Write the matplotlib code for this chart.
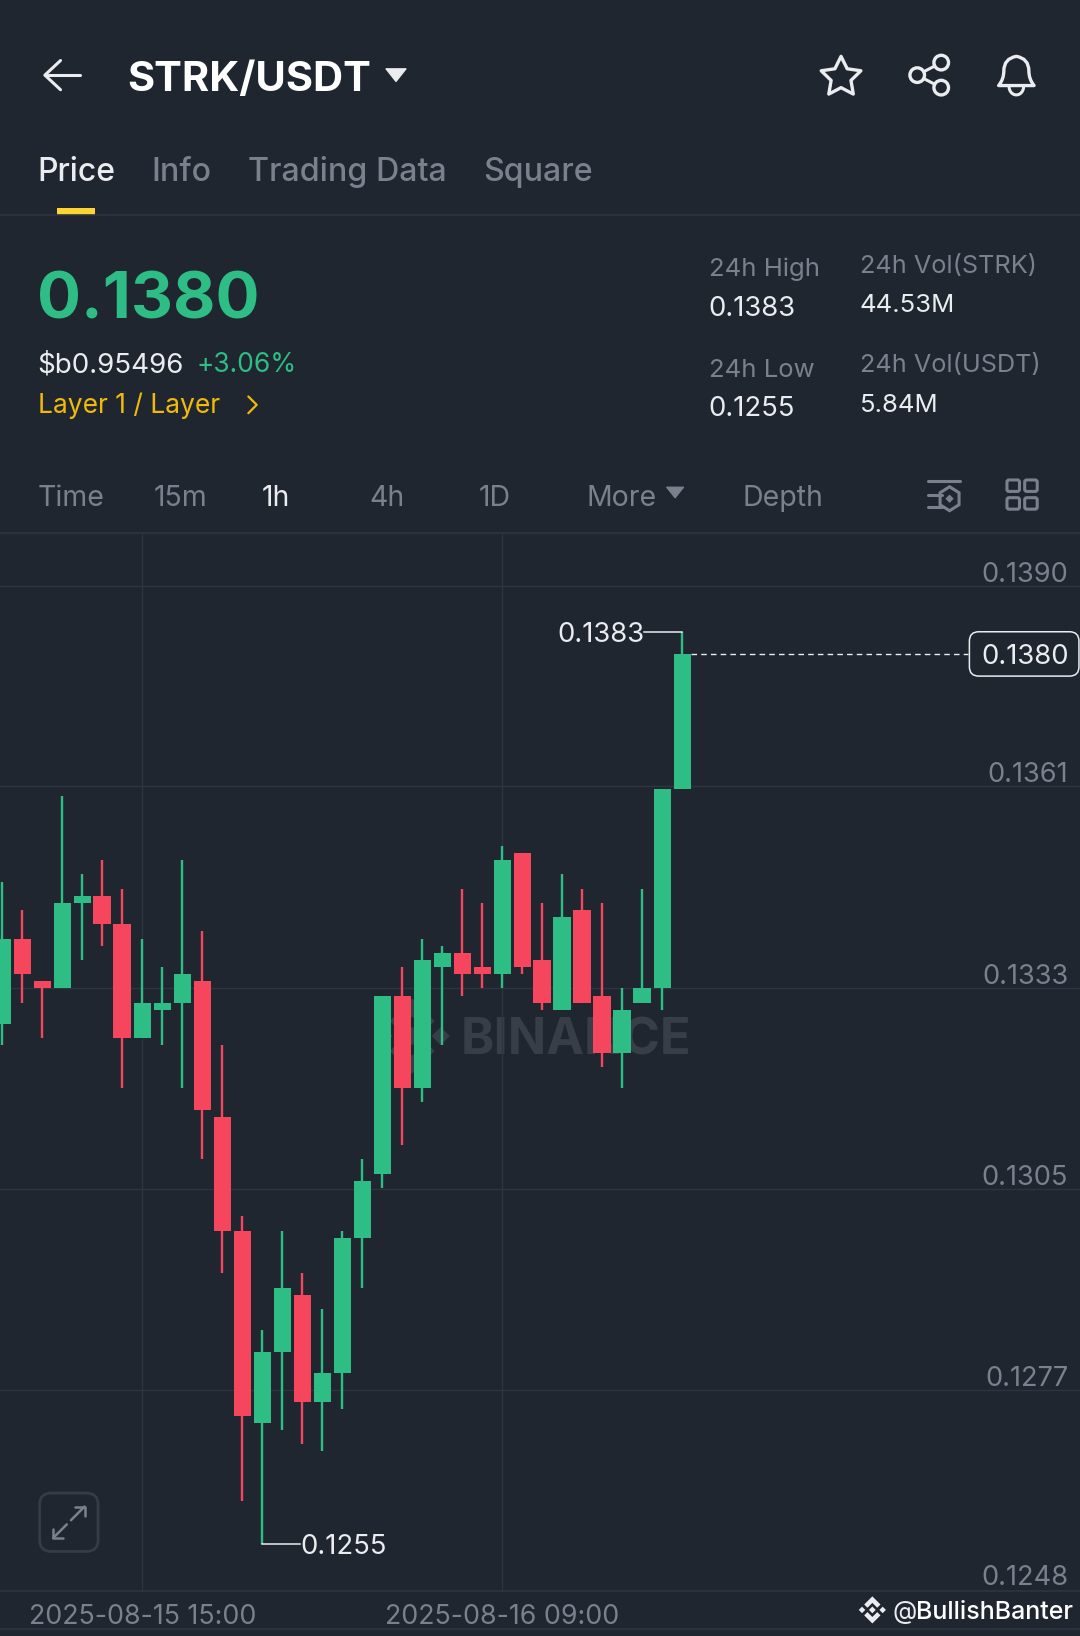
import numpy as np
import matplotlib
matplotlib.use("Agg")
import matplotlib.pyplot as plt
from matplotlib.patches import FancyBboxPatch, Polygon, Circle, PathPatch, Rectangle
from matplotlib.path import Path
from matplotlib.transforms import ScaledTranslation

plt.rcParams['font.family'] = ['Inter', 'DejaVu Sans']

BG = '#1F2630'
GREEN = '#2EBD85'
RED = '#F6465D'
GRID = '#2E3540'
GREY = '#7A818D'
WHITE = '#EAECEF'
YELLOW = '#F0B90B'

# hourly candles, left to right
opens = [0.1328, 0.1340, 0.1334, 0.1333, 0.1345, 0.1346, 0.1342, 0.1326, 0.1330, 0.1331,
         0.1334, 0.1315, 0.1299, 0.1272, 0.1282, 0.1290, 0.1275, 0.1279, 0.1298, 0.1307,
         0.1332, 0.1319, 0.1336, 0.1338, 0.1336, 0.1335, 0.1352, 0.1337, 0.1330, 0.1344,
         0.1332, 0.1324, 0.1331, 0.1333, 0.1361]
highs = [0.1348, 0.1344, 0.1334, 0.1360, 0.1349, 0.1351, 0.1347, 0.1340, 0.1336, 0.1351,
         0.1341, 0.1325, 0.1301, 0.1285, 0.1299, 0.1293, 0.1288, 0.1299, 0.1309, 0.1332,
         0.1336, 0.1340, 0.1339, 0.1347, 0.1345, 0.1353, 0.1352, 0.1345, 0.1349, 0.1347,
         0.1345, 0.1333, 0.1347, 0.1361, 0.1383]
lows = [0.1325, 0.1331, 0.1326, 0.1333, 0.1337, 0.1339, 0.1319, 0.1326, 0.1325, 0.1319,
        0.1309, 0.1293, 0.1261, 0.1255, 0.1271, 0.1269, 0.1268, 0.1274, 0.1291, 0.1305,
        0.1311, 0.1317, 0.1325, 0.1332, 0.1333, 0.1333, 0.1335, 0.1330, 0.1330, 0.1331,
        0.1322, 0.1319, 0.1331, 0.1330, 0.1361]
closes = [0.1340, 0.1335, 0.1333, 0.1345, 0.1346, 0.1342, 0.1326, 0.1331, 0.1331, 0.1335,
          0.1316, 0.1299, 0.1273, 0.1282, 0.1291, 0.1275, 0.1279, 0.1298, 0.1306, 0.1332,
          0.1319, 0.1337, 0.1338, 0.1335, 0.1335, 0.1351, 0.1336, 0.1331, 0.1343, 0.1331,
          0.1324, 0.1330, 0.1333, 0.1361, 0.1380]
price_ticks = [0.13895, 0.13614, 0.13331, 0.13049, 0.12767, 0.12484]
price_labels = ['0.1390', '0.1361', '0.1333', '0.1305', '0.1277', '0.1248']
date_ticks = [7, 25]
date_labels = ['2025-08-15 15:00', '2025-08-16 09:00']
last_price = 0.1380
high_price = 0.1383
low_price = 0.1255

fig = plt.figure(figsize=(10.8, 16.36), dpi=100, facecolor=BG)

# page chrome, in screen coordinates (1035 x 1568)
ui = fig.add_axes([0, 0, 1, 1])
ui.set_xlim(0, 1035)
ui.set_ylim(1568, 0)
ui.axis('off')


def label(x, y, s, size, color=WHITE, weight='normal', ha='left'):
    ui.text(x, y, s, fontsize=size, color=color, fontweight=weight, ha=ha, va='baseline')


def stroke(xs, ys, color=WHITE, lw=2.2):
    ui.plot(xs, ys, color=color, lw=lw, solid_capstyle='round', solid_joinstyle='round')


def binance_logo(cx, cy, r, color):
    top = [(0, -1), (.6, -.4), (.36, -.16), (0, -.52), (-.36, -.16), (-.6, -.4)]
    for sign in (1, -1):
        ui.add_patch(Polygon([(cx + a * r, cy + sign * b * r) for a, b in top], fc=color, ec='none'))
    for dx, d in ((0, .25), (-.76, .24), (.76, .24)):
        ui.add_patch(Polygon([(cx + dx * r, cy - d * r), (cx + dx * r + d * r, cy),
                              (cx + dx * r, cy + d * r), (cx + dx * r - d * r, cy)], fc=color, ec='none'))


# header
stroke([43, 77], [72, 72])
stroke([58, 43, 58], [58, 72, 86])
label(122, 87, 'STRK/USDT', 30, '#FFFFFF', 'bold')
ui.add_patch(Polygon([(370, 66), (389, 66), (379.5, 78)], fc=WHITE, ec=WHITE, lw=1, joinstyle='round'))

angles = np.deg2rad(np.arange(-90, 270, 36))
radii = np.where(np.arange(10) % 2 == 0, 20, 10)
ui.add_patch(Polygon(np.c_[806 + radii * np.cos(angles), 74 + radii * np.sin(angles)],
                     fc='none', ec=WHITE, lw=2.4, joinstyle='round'))

stroke([879, 902], [72, 60])
stroke([879, 902], [72, 84])
for cx, cy in ((879, 72), (902, 60), (902, 84)):
    ui.add_patch(Circle((cx, cy), 7, fc=BG, ec=WHITE, lw=2.4, zorder=3))

bell = Path([(957, 82), (962, 76), (962, 68), (962, 56), (974, 54), (974, 54), (974, 54), (986, 56),
             (986, 68), (986, 76), (991, 82), (957, 82)],
            [Path.MOVETO, Path.CURVE3, Path.CURVE3, Path.CURVE3, Path.CURVE3, Path.LINETO, Path.LINETO,
             Path.CURVE3, Path.CURVE3, Path.CURVE3, Path.CURVE3, Path.CLOSEPOLY])
ui.add_patch(PathPatch(bell, fc='none', ec=WHITE, lw=2.4, joinstyle='round'))
stroke(974 + 7 * np.cos(np.linspace(0, np.pi, 12)), 83 + 8 * np.sin(np.linspace(0, np.pi, 12)))

# tabs
label(36, 173, 'Price', 23, weight='medium')
label(145, 173, 'Info', 23.2, GREY, 'medium')
label(238, 173, 'Trading Data', 23.2, GREY, 'medium')
label(463, 173, 'Square', 23.2, GREY, 'medium')
ui.add_patch(Rectangle((55, 199), 36, 7, fc='#FCD535', ec='none'))
ui.plot([0, 1035], [206.5, 206.5], color=GRID, lw=1.2)

# price block
label(35, 305, '0.1380', 47, GREEN, 'bold')
label(36, 357, '$b0.95496', 20)
label(188, 357, '+3.06%', 19, GREEN)
label(36, 396, 'Layer 1 / Layer', 19, YELLOW)
stroke([238, 246, 238], [380, 388, 396], YELLOW, 1.6)

label(679, 265, '24h High', 18.5, GREY)
label(679, 303, '0.1383', 19.8)
label(824, 262, '24h Vol(STRK)', 18.2, GREY)
label(824, 299, '44.53M', 18.5)
label(679, 361, '24h Low', 18.5, GREY)
label(679, 399, '0.1255', 19.8)
label(824, 357, '24h Vol(USDT)', 18.2, GREY)
label(824, 395, '5.84M', 18.5)

# interval row
for x, s, c in ((36, 'Time', GREY), (147, '15m', GREY), (251, '1h', WHITE), (354, '4h', GREY),
                (459, '1D', GREY), (562, 'More', GREY), (712, 'Depth', GREY)):
    label(x, 485, s, 20.5, c)
ui.add_patch(Polygon([(639, 467), (655, 467), (647, 477)], fc=GREY, ec=GREY, lw=1, joinstyle='round'))

stroke([889, 920], [461, 461], GREY)
stroke([889, 903], [474, 474], GREY)
stroke([889, 903], [486, 486], GREY)
hexa = np.deg2rad(np.arange(-90, 270, 60))
ui.add_patch(Polygon(np.c_[910 + 10.5 * np.cos(hexa), 478 + 11.5 * np.sin(hexa)], fc='none', ec=GREY, lw=2.2))
ui.add_patch(Polygon([(910, 474), (914, 478), (910, 482), (906, 478)], fc=GREY, ec='none'))
for x0 in (965, 982):
    for y0 in (460, 477):
        ui.add_patch(FancyBboxPatch((x0, y0), 12, 11, boxstyle='round,pad=0,rounding_size=2',
                                    fc='none', ec=GREY, lw=2.2))

# watermark sits under the candles
binance_logo(395, 993, 36, '#383E48')
label(441, 1011, 'BINANCE', 36.4, '#383E48', 'bold')

# expand button
ui.add_patch(FancyBboxPatch((38, 1431), 56, 56, boxstyle='round,pad=0,rounding_size=11',
                            fc='none', ec='#353C47', lw=2))
stroke([68, 81], [1457, 1444], GREY, 1.8)
stroke([72, 81, 81], [1444, 1444, 1453], GREY, 1.8)
stroke([64, 51], [1461, 1474], GREY, 1.8)
stroke([51, 51, 60], [1465, 1474, 1474], GREY, 1.8)

# footer
ui.plot([0, 1035], [1561, 1561], color=GRID, lw=1.2)
binance_logo(836, 1543, 13, WHITE)
label(855, 1552, '@', 18)
label(878, 1552, 'BullishBanter', 18, '#FFFFFF', 'medium')

# last price tag
ui.add_patch(FancyBboxPatch((929, 605.5), 105, 42.5, boxstyle='round,pad=0,rounding_size=9',
                            fc=BG, ec=WHITE, lw=1.1))
label(1024, 636, '0.1380', 19.8, ha='right')

# chart
top, bottom = 511 / 1568, 1525 / 1568
ax = fig.add_axes([0, 1 - bottom, 1, bottom - top])
ax.patch.set_alpha(0)
ax.set_xlim(-0.115, 53.885)
ax.set_ylim(0.12484, 0.13969)
for name, spine in ax.spines.items():
    spine.set_visible(name in ('top', 'bottom'))
    spine.set_color(GRID)
    spine.set_linewidth(1.2)

ax.set_yticks(price_ticks, price_labels)
ax.set_xticks(date_ticks, date_labels)
ax.yaxis.tick_right()
ax.tick_params(axis='y', length=0, pad=-8.5, labelcolor=GREY, labelsize=19.6)
ax.tick_params(axis='x', length=0, pad=9.5, labelcolor=GREY, labelsize=19.3)
# labels sit just above their grid lines, the bottom one a bit higher
nudge = ScaledTranslation(0, -2 / 100, fig.dpi_scale_trans)
yticklabels = ax.get_yticklabels()
for tick in yticklabels:
    tick.set_ha('right')
    tick.set_va('bottom')
for tick in yticklabels[:-1]:
    tick.set_transform(tick.get_transform() + nudge)
ax.grid(True, color=GRID, lw=1.0, zorder=0)
ax.set_axisbelow(True)

idx = np.arange(len(opens))
o, h, l, c = map(np.array, (opens, highs, lows, closes))
colors = np.where(c >= o, GREEN, RED)
ax.vlines(idx, l, h, colors=colors, lw=1.7, zorder=3)
ax.bar(idx, np.abs(c - o), bottom=np.minimum(o, c), width=0.88, color=colors, zorder=4)

# high / low callouts
ax.plot([34, 32.1], [high_price, high_price], color=WHITE, lw=1.1, zorder=3)
ax.text(32.1, high_price, f'{high_price:.4f}', color=WHITE, fontsize=19.8, ha='right', va='center_baseline')
ax.plot([13, 14.9], [low_price, low_price], color=WHITE, lw=1.1, zorder=3)
ax.text(14.9, low_price, f'{low_price:.4f}', color=WHITE, fontsize=19.8, ha='left', va='center_baseline')
ax.plot([34.42, 48.3], [last_price, last_price], color=WHITE, lw=1.0, dashes=(4, 3), zorder=3)

fig.savefig('out.png', dpi=100, facecolor=BG)
